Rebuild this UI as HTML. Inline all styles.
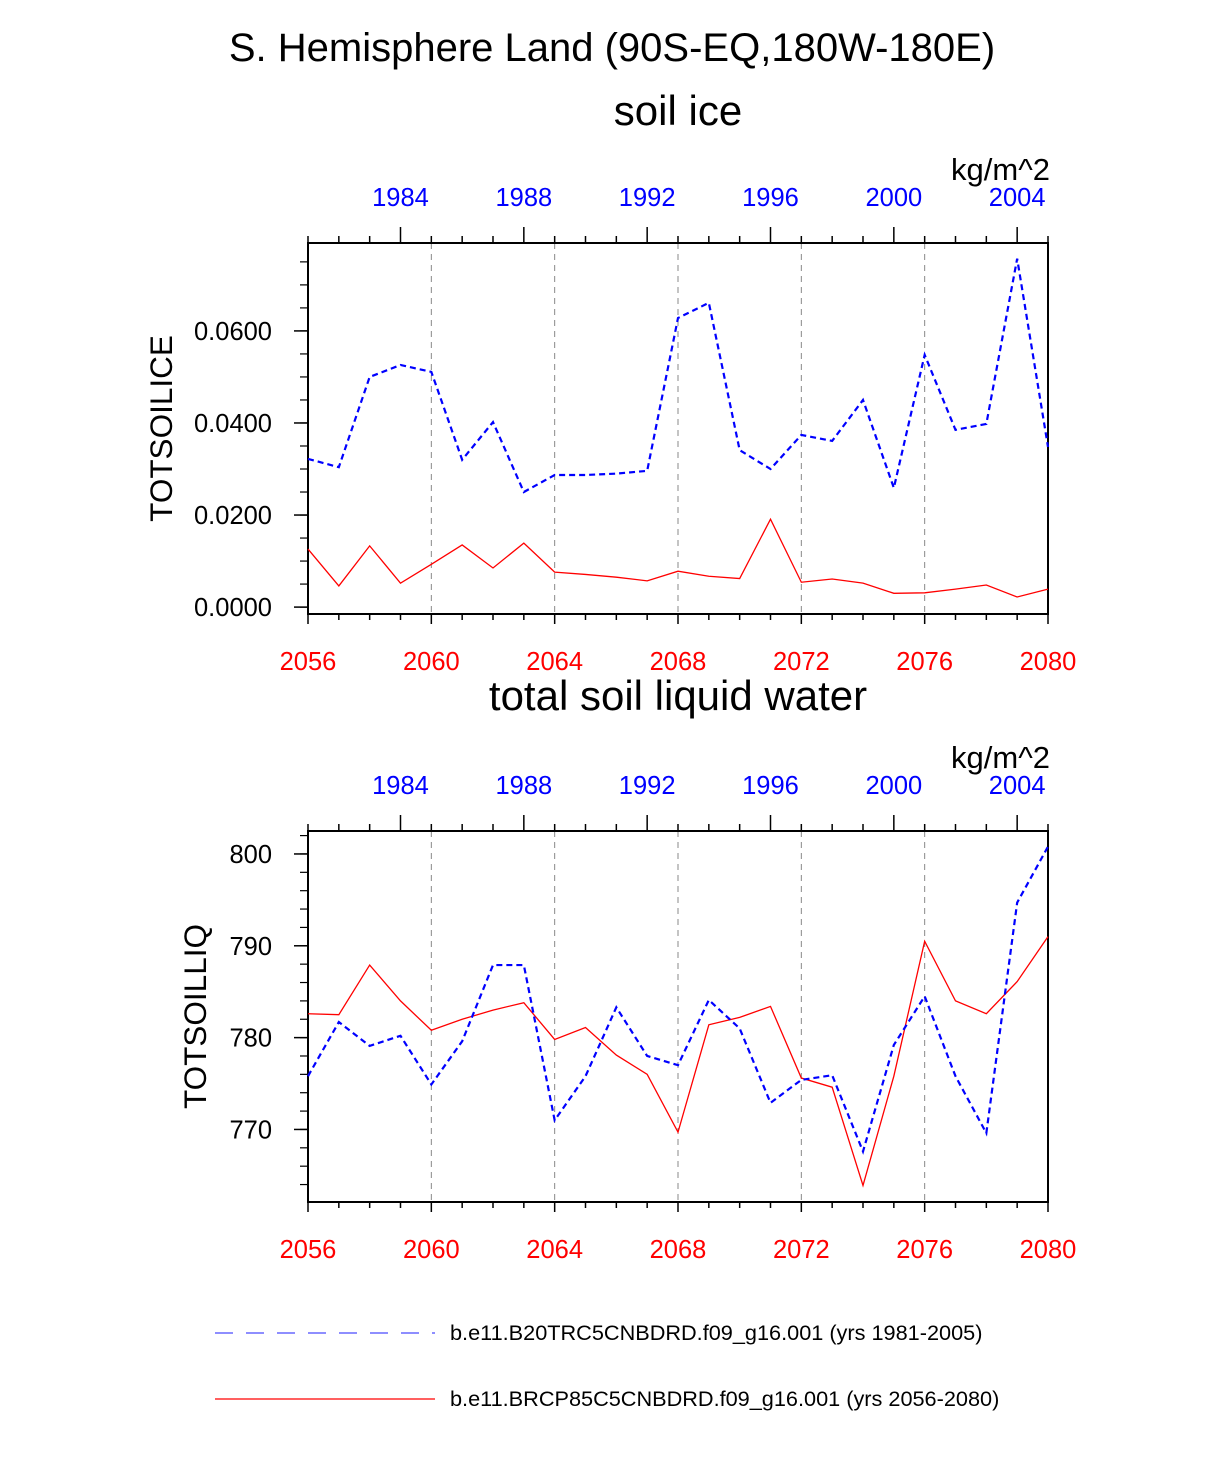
<!DOCTYPE html>
<html><head><meta charset="utf-8"><style>
body{margin:0;background:#fff;}
svg text{font-family:"Liberation Sans",Arial,sans-serif;}
</style></head><body>
<svg id="chart" width="1224" height="1470" xmlns="http://www.w3.org/2000/svg">
<text x="612" y="61" font-size="40" text-anchor="middle">S. Hemisphere Land (90S-EQ,180W-180E)</text>
<g id="p1"></g>
<g id="p2"></g>
<g>
<line x1="215" y1="1333" x2="435" y2="1333" stroke="#4a4aff" stroke-width="1.2" stroke-dasharray="18,13"/>
<text x="450" y="1340" font-size="21.7">b.e11.B20TRC5CNBDRD.f09_g16.001 (yrs 1981-2005)</text>
<line x1="215" y1="1399" x2="435" y2="1399" stroke="red" stroke-width="1.2"/>
<text x="450" y="1406" font-size="21.7">b.e11.BRCP85C5CNBDRD.f09_g16.001 (yrs 2056-2080)</text>
</g>
</svg>
<script>
const years = [2056,2057,2058,2059,2060,2061,2062,2063,2064,2065,2066,2067,2068,2069,2070,2071,2072,2073,2074,2075,2076,2077,2078,2079,2080];
const iceBlue = [0.0322,0.0304,0.0500,0.0526,0.0511,0.0320,0.0402,0.0250,0.0287,0.0287,0.0290,0.0296,0.0628,0.0661,0.0341,0.0300,0.0374,0.0361,0.0450,0.0259,0.0548,0.0385,0.0398,0.0757,0.0348];
const iceRed = [0.0126,0.0046,0.0133,0.0052,0.0093,0.0135,0.0085,0.0139,0.0076,0.0071,0.0065,0.0057,0.0078,0.0067,0.0062,0.0191,0.0054,0.0061,0.0052,0.0030,0.0031,0.0039,0.0048,0.0022,0.0039];
const liqBlue = [775.8,781.7,779.1,780.2,774.9,779.6,787.9,787.9,771.0,775.8,783.3,778.0,777.0,784.1,781.0,772.9,775.4,775.9,767.6,779.2,784.5,775.8,769.6,794.7,800.8];
const liqRed = [782.6,782.5,787.9,784.0,780.8,782.0,783.0,783.8,779.8,781.1,778.1,776.0,769.7,781.4,782.2,783.4,775.6,774.6,763.9,775.8,790.5,784.0,782.6,786.1,791.0];
const bottomTicks = [2056,2060,2064,2068,2072,2076,2080];
const topTicks = [1984,1988,1992,1996,2000,2004];
const iceTicks = [0,0.02,0.04,0.06];
const iceTickLabels = ["0.0000","0.0200","0.0400","0.0600"];
const liqTicks = [770,780,790,800];
const liqTickLabels = ["770","780","790","800"];

const NS="http://www.w3.org/2000/svg";
function mk(parent,tag,attrs,text){const e=document.createElementNS(NS,tag);for(const k in attrs)e.setAttribute(k,attrs[k]);if(text!==undefined)e.textContent=text;parent.appendChild(e);return e;}
const X0=308,X1=1048;
function xs(y){return X0+(y-2056)*(X1-X0)/24;}

function panel(g,top,bot,vmin,vmax,minorStep,ticks,labels,title,titleY,ylab,ylabX,blue,red){
  const ys=v=>bot-(v-vmin)*(bot-top)/(vmax-vmin);
  let t=mk(g,'text',{x:678,y:titleY,'font-size':42,'text-anchor':'middle'},title);
  
  
  t=mk(g,'text',{x:1050,y:top-63,'font-size':31,'text-anchor':'end'},'kg/m^2');
  
  
  t=mk(g,'text',{x:ylabX,y:(top+bot)/2,'font-size':31.5,'text-anchor':'middle',transform:`rotate(-90 ${ylabX} ${(top+bot)/2})`},ylab);
  
  
  for(const y of bottomTicks.slice(1,-1)){
    const l=mk(g,'line',{x1:xs(y),x2:xs(y),y1:top,y2:bot,stroke:'#888','stroke-width':1,'stroke-dasharray':'6,5'});
    
    
  }
  for(let y=2056;y<=2080;y++){
    const maj=(y-2056)%4===0;
    mk(g,'line',{x1:xs(y),x2:xs(y),y1:bot,y2:bot+(maj?10:6),stroke:'#000','stroke-width':1.5});
    const ty=y-75;
    const tmaj=ty%4===0;
    mk(g,'line',{x1:xs(y),x2:xs(y),y1:top,y2:top-(tmaj?16:7),stroke:'#000','stroke-width':1.5});
  }
  for(const y of bottomTicks){
    t=mk(g,'text',{x:xs(y),y:bot+56,'font-size':25.5,fill:'red','text-anchor':'middle'},String(y));
    
    
  }
  for(const y of topTicks){
    t=mk(g,'text',{x:xs(y+75),y:top-37,'font-size':25.5,fill:'blue','text-anchor':'middle'},String(y));
    
    
  }
  const start=Math.ceil(vmin/minorStep-1e-9);
  for(let i=start;i*minorStep<=vmax+1e-9;i++){
    const v=i*minorStep;
    mk(g,'line',{x1:X0,x2:X0-8,y1:ys(v),y2:ys(v),stroke:'#000','stroke-width':1.2});
  }
  ticks.forEach((v,i)=>{
    mk(g,'line',{x1:X0,x2:X0-14,y1:ys(v),y2:ys(v),stroke:'#000','stroke-width':1.5});
    t=mk(g,'text',{x:X0-36,y:ys(v)+9,'font-size':25.5,'text-anchor':'end'},labels[i]);
    
    
  });
  const b=mk(g,'rect',{x:X0,y:top,width:X1-X0,height:bot-top,fill:'none',stroke:'#000','stroke-width':2});
  
  
  const pr=mk(g,'polyline',{points:red.map((v,i)=>xs(years[i])+','+ys(v)).join(' '),fill:'none',stroke:'red','stroke-width':1.3});
  
  
  const pb=mk(g,'polyline',{points:blue.map((v,i)=>xs(years[i])+','+ys(v)).join(' '),fill:'none',stroke:'blue','stroke-width':2.2,'stroke-dasharray':'6,4'});
  
  
}
panel(document.getElementById('p1'),243,614,-0.0015,0.0791,0.005,iceTicks,iceTickLabels,'soil ice',125,'TOTSOILICE',172,iceBlue,iceRed);
panel(document.getElementById('p2'),831,1202,762.1,802.5,2,liqTicks,liqTickLabels,'total soil liquid water',710,'TOTSOILLIQ',206,liqBlue,liqRed);
</script>
</body></html>
